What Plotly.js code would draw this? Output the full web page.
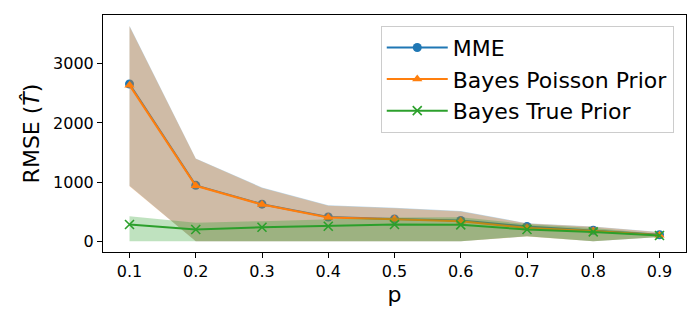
<!DOCTYPE html>
<html>
<head>
<meta charset="utf-8">
<script src="https://cdn.plot.ly/plotly-3.0.1.min.js"></script>
<style>html,body{margin:0;padding:0;background:#fff;}#chart{width:700px;height:320px;}</style>
</head>
<body>
<div id="chart"></div>
<script>
const p = [0.1, 0.2, 0.3, 0.4, 0.5, 0.6, 0.7, 0.8, 0.9];

const mme = [2660, 945, 627, 410, 378, 350, 250, 186, 110];
const mmeUpper = [3644, 1401, 910, 610, 565, 512, 305, 250, 155];
const mmeLower = [937, 0, 0, 0, 0, 0, 85, 0, 73];

const poisson = [2640, 938, 620, 402, 370, 338, 225, 172, 102];
const poissonUpper = [3630, 1395, 902, 602, 558, 505, 300, 243, 150];
const poissonLower = [930, 0, 0, 0, 0, 0, 82, 0, 70];

const truePrior = [283, 198, 237, 254, 283, 277, 198, 158, 97];
const trueUpper = [424, 311, 340, 370, 400, 405, 290, 225, 122];
const trueLower = [0, 0, 0, 0, 0, 0, 85, 0, 73];

const names = ["MME", "Bayes Poisson Prior", "Bayes True Prior"];
const colors = ["#1f77b4", "#ff7f0e", "#2ca02c"];
const fills = ["rgba(31,119,180,0.3)", "rgba(255,127,14,0.3)", "rgba(44,160,44,0.3)"];
const symbols = ["circle", "triangle-up", "x-thin-open"];

function band(upper, lower, fc) {
  return {
    x: p.concat(p.slice().reverse()),
    y: upper.concat(lower.slice().reverse()),
    type: "scatter", mode: "lines", fill: "toself",
    fillcolor: fc, line: {width: 0, color: "rgba(0,0,0,0)"},
    showlegend: false, hoverinfo: "skip"
  };
}
function line(y, i) {
  return {
    x: p, y: y, type: "scatter", mode: "lines+markers", name: names[i],
    line: {color: colors[i], width: 2},
    marker: {symbol: symbols[i], size: 9, color: colors[i],
             line: {color: colors[i], width: i === 2 ? 1.6 : 0}},
    hoverinfo: "skip"
  };
}

const data = [
  line(mme, 0), band(mmeUpper, mmeLower, fills[0]),
  line(poisson, 1), band(poissonUpper, poissonLower, fills[1]),
  line(truePrior, 2), band(trueUpper, trueLower, fills[2])
];

const fam = "DejaVu Sans, sans-serif";
const layout = {
  width: 700, height: 320,
  margin: {l: 103, r: 14, t: 15, b: 68},
  paper_bgcolor: "#fff", plot_bgcolor: "#fff",
  font: {family: fam, color: "#000"},
  showlegend: true,
  legend: {
    x: 0.979, xanchor: "right", y: 0.955, yanchor: "top",
    bgcolor: "rgba(255,255,255,0.8)", bordercolor: "#cccccc", borderwidth: 1,
    font: {family: fam, size: 22, color: "#000"},
    tracegroupgap: 0, itemwidth: 61
  },
  xaxis: {
    range: [0.06, 0.94],
    tickvals: p, ticktext: p.map(v => v.toFixed(1)),
    ticks: "outside", ticklen: 5, tickwidth: 1, tickcolor: "#000",
    tickfont: {family: fam, size: 16, color: "#000"},
    showline: true, linecolor: "#000", linewidth: 1, mirror: true,
    showgrid: false, zeroline: false,
    title: {text: "p", font: {family: fam, size: 22, color: "#000"}, standoff: 6}
  },
  yaxis: {
    range: [-182, 3826],
    tickvals: [0, 1000, 2000, 3000],
    ticks: "outside", ticklen: 5, tickwidth: 1, tickcolor: "#000",
    tickfont: {family: fam, size: 16, color: "#000"},
    showline: true, linecolor: "#000", linewidth: 1, mirror: true,
    showgrid: false, zeroline: false,
    title: {text: "RMSE (<i>T\u0302</i>)", font: {family: fam, size: 22, color: "#000"}, standoff: 7}
  }
};

Plotly.newPlot("chart", data, layout, {staticPlot: true, displayModeBar: false});
</script>
</body>
</html>
